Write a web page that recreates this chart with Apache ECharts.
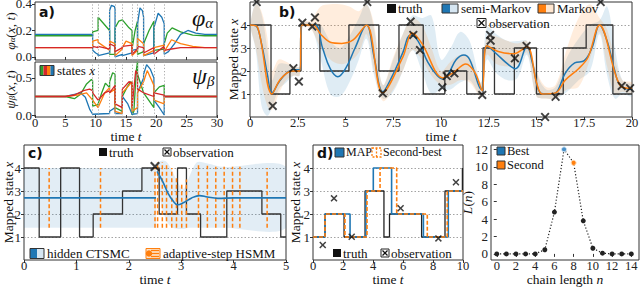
<!DOCTYPE html>
<html>
<head>
<meta charset="utf-8">
<script src="https://cdn.jsdelivr.net/npm/echarts@6.0.0/dist/echarts.min.js"></script>
<style>
html,body{margin:0;padding:0;background:#fff;}
#chart{width:640px;height:301px;}
</style>
</head>
<body>
<div id="chart"></div>
<script>
// ================= DATA =================
// ---- panel a ----
const aObsTimes = [9.5, 10.4, 12.3, 13.2, 14.4, 16.0, 16.9, 17.9, 19.6, 21.3];
const phiGreen = [[0,0.16],[9.5,0.16],[9.5,0.19],[10.4,0.2],[10.4,0.3],[12.3,0.2],[12.3,0.02],[13.2,0.02],[13.2,0.22],[13.8,0.27],[14.4,0.28],[15.5,0.22],[16.0,0.2],[16.0,0.06],[16.5,0.2],[16.9,0.27],[16.9,0.02],[17.9,0.04],[17.9,0.1],[18.8,0.2],[19.6,0.27],[19.6,0.05],[21.3,0.06],[21.3,0.1],[21.8,0.18],[22.6,0.22],[24.0,0.19],[26,0.165],[28,0.16],[30,0.16]];
const phiRed = [[0,0.07],[9.5,0.07],[9.5,0.08],[10.4,0.07],[10.4,0.08],[12.3,0.06],[12.3,0.1],[13.2,0.08],[13.2,0.04],[14.4,0.07],[14.4,0.08],[16.0,0.09],[16.0,0.02],[16.9,0.06],[16.9,0.08],[17.9,0.07],[17.9,0.03],[19.6,0.07],[19.6,0.02],[21.3,0.08],[21.3,0.05],[22.5,0.06],[24,0.07],[30,0.07]];
const phiOrange = [[0,0.07],[9.5,0.07],[9.5,0.12],[10.4,0.13],[10.4,0.11],[12.3,0.05],[12.3,0.12],[13.2,0.1],[13.2,0.01],[14.4,0.06],[14.4,0.07],[15.0,0.12],[16.0,0.1],[16.0,0.01],[16.9,0.05],[16.9,0.14],[17.9,0.1],[17.9,0.01],[19.6,0.05],[19.6,0.07],[21.3,0.09],[21.3,0.04],[22.5,0.13],[24,0.1],[26,0.08],[28,0.07],[30,0.07]];
const phiBlue = [[0,0.17],[9.5,0.17],[9.5,0.05],[10.0,0.03],[10.4,0.02],[10.4,0.01],[12.3,0.03],[12.3,0.35],[12.6,0.39],[13.1,0.38],[13.2,0.36],[13.2,0.0],[14.4,0.02],[14.4,0.01],[16.0,0.03],[16.0,0.05],[16.9,0.06],[16.9,0.25],[17.3,0.37],[17.7,0.35],[17.9,0.3],[17.9,0.01],[19.6,0.03],[19.6,0.22],[20.3,0.33],[20.9,0.3],[21.3,0.25],[21.3,0.02],[22.0,0.04],[23.0,0.1],[24.0,0.17],[25.2,0.2],[26.5,0.18],[28,0.17],[30,0.17]];
const psiGreen = [[0,0.25],[5,0.25],[6.5,0.22],[7.5,0.28],[8.5,0.42],[9.3,0.48],[9.5,0.46],[9.5,0.12],[10.4,0.14],[10.4,0.15],[11.0,0.3],[11.6,0.43],[12.3,0.37],[12.3,0.45],[12.8,0.57],[13.2,0.55],[13.2,0.1],[14.4,0.05],[14.4,0.25],[15.2,0.38],[15.8,0.45],[16.0,0.42],[16.0,0.0],[16.3,0.05],[16.7,0.6],[16.9,0.72],[16.9,0.55],[17.9,0.3],[19.6,0.1],[19.6,0.3],[20.5,0.38],[21.3,0.4],[21.3,0.25],[30,0.25]];
const psiRed = [[0,0.25],[5,0.25],[6.5,0.27],[8,0.33],[9.0,0.35],[9.5,0.33],[9.5,0.3],[10.4,0.2],[11.5,0.3],[12.3,0.33],[12.3,0.3],[13.2,0.4],[13.2,0.15],[14.4,0.1],[14.4,0.35],[15.5,0.45],[16.0,0.43],[16.0,0.1],[16.6,0.6],[16.9,0.55],[16.9,0.35],[17.9,0.3],[19.6,0.25],[19.6,0.3],[21.3,0.27],[21.3,0.25],[30,0.25]];
const psiOrange = [[0,0.25],[5,0.25],[7,0.27],[8.5,0.3],[9.5,0.2],[10.4,0.1],[11.5,0.3],[12.3,0.37],[12.3,0.3],[13.2,0.35],[13.2,0.05],[14.4,0.02],[14.4,0.3],[15.5,0.4],[16.0,0.45],[16.0,0.05],[16.9,0.1],[16.9,0.3],[17.9,0.45],[18.5,0.6],[19.6,0.4],[19.6,0.2],[21.3,0.15],[21.3,0.25],[30,0.25]];
const psiBlue = [[0,0.25],[5,0.25],[6.5,0.28],[7.5,0.3],[8.3,0.24],[9.0,0.08],[9.5,0.01],[12.3,0.02],[12.3,0.05],[13.2,0.1],[13.2,0.02],[14.4,0.02],[14.4,0.25],[15.3,0.15],[16.0,0.01],[16.9,0.02],[16.9,0.3],[17.9,0.5],[17.9,0.55],[18.4,0.68],[19.0,0.62],[19.6,0.5],[19.6,0.2],[20.5,0.1],[21.3,0.0],[21.3,0.25],[30,0.25]];

// ---- panel b ----
const bTruthT = [0,1.1,2.09,2.67,3.66,5.18,6.75,7.8,9.07,10.2,11.35,12.2,12.8,13.84,15.0,16.4,17.6,19.0,20];
const bTruthV = [4,1,2,4,2,4,2,4,1,2,1,3,1,3,1,3,4,1,1];
const bSemiMean = [[0,4],[0.3,3.97],[0.6,3.2],[0.9,1.9],[1.15,1.05],[1.5,1.5],[1.9,1.9],[2.3,2.05],[2.6,2.05],[2.7,4.0],[3.4,4.0],[3.8,3.0],[4.2,2.1],[4.6,1.75],[5.0,2.1],[5.5,3.0],[6.1,4.0],[6.5,2.6],[6.95,1.1],[7.4,1.7],[8.0,2.8],[8.4,3.55],[8.8,3.3],[9.3,2.4],[9.8,1.8],[10.1,1.65],[10.4,1.9],[10.8,2.5],[11.2,2.7],[11.5,2.5],[12.1,1.2],[12.4,3.1],[12.9,2.75],[13.5,2.3],[13.9,2.1],[14.5,3.05],[14.8,2.3],[15.2,1.05],[15.6,1.0],[16.0,1.05],[16.5,1.9],[17.0,2.35],[17.5,2.45],[17.9,3.0],[18.3,4.0],[18.7,3.3],[19.1,2.0],[19.4,1.35],[20,1.2]];
const bMarkMean = [[0,4],[0.4,3.9],[1.15,1.0],[1.6,1.65],[2.2,2.0],[2.6,2.0],[2.7,4.0],[3.3,4.0],[3.7,3.6],[4.2,3.25],[4.8,3.2],[5.4,3.35],[6.1,4.0],[6.95,1.05],[8.0,2.6],[8.5,3.65],[9.0,3.2],[10.1,1.7],[10.6,1.9],[11.3,2.3],[11.8,1.9],[12.15,1.15],[12.4,3.1],[13.0,2.85],[13.8,2.75],[14.5,3.05],[15.0,1.5],[15.3,1.0],[16.0,1.05],[16.5,1.6],[17.2,2.1],[17.7,2.6],[18.3,4.0],[19.4,1.35],[20,1.25]];
const bBandT   = [0,0.3,0.6,0.9,1.15,1.5,1.9,2.3,2.6,2.75,3.2,3.7,4.2,4.7,5.2,5.7,6.1,6.5,6.95,7.5,8.0,8.5,9.0,9.5,10.0,10.5,11.0,11.5,12.1,12.4,12.9,13.5,14.0,14.5,15.0,15.5,16.0,16.6,17.2,17.8,18.3,18.7,19.1,19.5,20];
const bMarkHi  = [4.05,4.9,4.6,3.5,2.0,2.5,2.4,2.2,2.2,4.1,4.2,4.8,4.9,4.9,4.8,4.6,4.9,4.0,1.4,2.6,3.6,4.3,4.0,3.0,2.0,2.4,2.7,2.6,1.5,3.5,3.5,3.3,3.2,3.3,2.0,1.3,1.4,3.0,4.3,4.9,4.3,3.8,2.5,1.6,1.5];
const bMarkLo  = [3.95,3.0,1.5,0.5,0.3,1.0,1.6,1.8,1.8,3.9,3.8,3.0,2.5,2.3,2.4,2.8,3.6,2.0,0.7,1.2,2.0,2.9,2.5,1.8,1.4,1.4,1.6,1.5,0.9,2.7,2.3,2.2,2.3,2.8,0.9,0.8,0.8,1.2,1.3,2.5,3.7,2.2,1.0,1.1,1.0];
const bSemiHi  = [4.05,4.95,4.5,3.0,1.6,2.3,2.3,2.2,2.2,4.1,4.1,4.0,3.3,3.0,3.5,4.3,4.95,3.8,1.4,2.5,3.6,4.4,4.3,4.4,2.5,3.0,3.7,3.3,1.5,3.9,3.6,3.3,3.3,3.3,1.9,1.2,1.3,2.6,3.4,4.0,4.2,4.8,3.0,1.6,1.4];
const bSemiLo  = [3.95,2.9,0.5,0.05,0.4,1.2,1.5,1.8,1.8,3.9,3.9,2.5,1.0,0.9,1.5,2.5,3.4,1.8,0.8,1.1,2.0,2.9,2.0,1.0,1.2,1.2,1.5,1.6,0.9,2.5,1.9,1.6,1.7,2.7,0.9,0.8,0.8,1.1,1.6,2.0,3.6,1.8,0.8,1.0,0.9];
const bObs = [[0.35,5.0],[1.19,0.48],[2.27,2.12],[2.56,1.54],[2.74,4.1],[3.26,3.93],[3.4,4.33],[6.14,5.0],[6.95,1.03],[8.41,4.15],[8.55,3.57],[8.9,2.91],[10.07,1.29],[10.3,1.78],[10.7,1.9],[12.16,0.96],[12.57,3.57],[12.6,3.32],[13.87,2.55],[14.48,3.09],[15.45,0.0],[16.0,0.88],[18.36,5.0],[19.46,1.35],[19.9,1.25]];

// ---- panel c ----
const cTruthT = [0,0.29,0.7,1.06,1.32,1.88,2.25,2.58,2.93,3.1,3.37,3.87,4.54,4.9,5];
const cTruthV = [4,1,4,1,2,3,4,2,4,2,1,3,2,1,1];
const cMean1 = [[0,2.7],[2.52,2.7]];
const cMean2 = [[2.54,3.85],[2.65,3.4],[2.75,2.9],[2.85,2.55],[2.93,2.4],[3.05,2.5],[3.2,2.7],[3.35,2.8],[3.5,2.74],[3.7,2.68],[4.0,2.7],[5,2.7]];
const cBand1T = [0,2.52], cBand1Lo = [1.4,1.4], cBand1Hi = [4.0,4.0];
const cBand2T  = [2.54,2.6,2.7,2.8,2.95,3.05,3.15,3.3,3.5,3.8,5.0];
const cBand2Hi = [4.1,4.3,4.3,4.0,3.3,3.1,3.6,4.25,4.2,4.05,4.05];
const cBand2Lo = [3.6,2.6,1.8,1.45,1.35,1.35,1.4,1.4,1.4,1.4,1.4];
const cDashT  = [0.48,1.46,2.5,2.55,2.64,2.72,2.82,2.91,3.01,3.1,3.33,3.5,3.66,3.82,3.98,4.12,4.64];
const cDashLo = [1.4,1.4,1.4,1.4,1.4,1.4,1.4,1.4,1.4,1.4,1.4,1.4,1.4,1.4,1.4,1.4,1.4];
const cDashHi = [4,4,4,4.25,4.25,4.2,4.0,3.6,3.3,3.5,4.2,4.1,4.05,4.05,4.05,4.05,4.0];
const cObs = [[2.5,4.06]];

// ---- panel d ----
const dTruthT = [0,0.8,2.07,3.47,4.73,5.1,7.24,8.8,9.96,10];
const dTruthV = [1,2,1,3,1,2,1,3,4,4];
const dMapT = [0,0.8,2.47,3.53,4.02,5.24,7.36,9.02,10];
const dMapV = [1,2,1,3,4,2,1,3,3];
const dSecT = [0,0.8,2.13,3.6,4.47,5.58,7.62,8.95,10];
const dSecV = [1,2,1,3,4,2,1,3,3];
const dObs = [[0.65,0.65],[1.4,2.68],[2.58,1.01],[5.84,2.25],[8.36,0.94],[9.53,3.38]];

// ---- panel e ----
const eN = [0,1,2,3,4,5,6,7,8,9,10,11,12,13,14];
const eL = [0,0,0,0,0,0.48,4.8,12,10.45,3.8,0.65,0.08,0,0,0];
const eBest = 7, eSecond = 8;

// ================= STYLE =================
const C = {blue:'#1f77b4', orange:'#ff7f0e', green:'#2ca02c', red:'#d62728', k:'#222'};
const SERIF = 'Liberation Serif';
const XPATH = 'path://M1.5,0L5,3.5L8.5,0L10,1.5L6.5,5L10,8.5L8.5,10L5,6.5L1.5,10L0,8.5L3.5,5L0,1.5Z';
const zip = (T,V) => T.map((t,i)=>[t,V[i]]);
const richAx = {
  r:{fontFamily:SERIF,fontSize:13.5,color:'#111',lineHeight:12},
  i:{fontFamily:SERIF,fontSize:13.5,fontStyle:'italic',color:'#111',lineHeight:12},
  s:{fontFamily:SERIF,fontSize:9,fontStyle:'italic',color:'#111',verticalAlign:'bottom',lineHeight:12}
};
const gridBase = {show:true, borderColor:'#333', borderWidth:1, backgroundColor:'transparent', containLabel:false, outerBoundsMode:'none'};
const grids = [
  {left:35, top:2, width:182, height:58},
  {left:35, top:62, width:182, height:55},
  {left:250, top:2, width:382, height:115},
  {left:24, top:145, width:262, height:115},
  {left:313, top:145, width:150, height:115},
  {left:491, top:145, width:148, height:115}
].map(g=>Object.assign({}, gridBase, g));

function ax(o){
  const base = {
    type:'value',
    axisLine:{show:false},
    axisTick:{show:true, length:3, lineStyle:{color:'#333'}},
    splitLine:{show:false},
    axisLabel:{fontFamily:SERIF, fontSize:13, color:'#222', margin:3},
    nameMoveOverlap:false
  };
  const r = Object.assign({}, base, o);
  if (o.axisLabel) r.axisLabel = Object.assign({}, base.axisLabel, o.axisLabel);
  if (o.axisTick) r.axisTick = Object.assign({}, base.axisTick, o.axisTick);
  return r;
}
const timeName = {name:'{r|time }{i|t}', nameLocation:'middle', nameTextStyle:{rich:richAx}};
const xl = {margin:0, lineHeight:12, fontSize:12.5};
const gridLine = {show:true, lineStyle:{type:[1.5,2], color:'#999', width:0.9}};
const st = [1,2,3,4];

const xAxis = [
  ax({gridIndex:0, min:0, max:30, interval:5, axisLabel:{show:false}}),
  ax(Object.assign({gridIndex:1, min:0, max:30, interval:5, axisLabel:xl}, timeName, {nameGap:13})),
  ax(Object.assign({gridIndex:2, min:0, max:20, interval:2.5, axisLabel:xl}, timeName, {nameGap:13})),
  ax(Object.assign({gridIndex:3, min:0, max:5, interval:1, axisLabel:xl}, timeName, {nameGap:13})),
  ax(Object.assign({gridIndex:4, min:0, max:10, interval:2, axisLabel:xl}, timeName, {nameGap:13})),
  ax({gridIndex:5, min:-0.6, max:14.8, axisLabel:Object.assign({customValues:[0,2,4,6,8,10,12,14]}, xl), axisTick:{customValues:[0,2,4,6,8,10,12,14]},
      name:'{r|chain length }{i|n}', nameLocation:'middle', nameGap:13, nameTextStyle:{rich:richAx}})
];
const yAxis = [
  ax({gridIndex:0, min:-0.023, max:0.415, axisLabel:{customValues:[0,0.2,0.4], formatter:v=>v.toFixed(1)}, axisTick:{customValues:[0,0.2,0.4]},
      name:'{i|φ}{s|α}{r|(}{i|x}{r|, }{i|t}{r|)}', nameLocation:'middle', nameGap:19, nameRotate:90, nameTextStyle:{rich:richAx}}),
  ax({gridIndex:1, min:-0.027, max:0.716, axisLabel:{customValues:[0,0.5], formatter:v=>v.toFixed(1)}, axisTick:{customValues:[0,0.5]},
      name:'{i|ψ}{s|β}{r|(}{i|x}{r|, }{i|t}{r|)}', nameLocation:'middle', nameGap:19, nameRotate:90, nameTextStyle:{rich:richAx}}),
  ax({gridIndex:2, min:0, max:5, axisLabel:{customValues:st}, axisTick:{customValues:st}, splitLine:gridLine,
      name:'{r|Mapped state }{i|x}', nameLocation:'middle', nameGap:11, nameRotate:90, nameTextStyle:{rich:richAx}}),
  ax({gridIndex:3, min:0, max:5, axisLabel:{customValues:st}, axisTick:{customValues:st}, splitLine:gridLine,
      name:'{r|Mapped state }{i|x}', nameLocation:'middle', nameGap:10, nameRotate:90, nameTextStyle:{rich:richAx}}),
  ax({gridIndex:4, min:0, max:5, axisLabel:{customValues:st}, axisTick:{customValues:st}, splitLine:gridLine,
      name:'{r|Mapped state }{i|x}', nameLocation:'middle', nameGap:12, nameRotate:90, nameTextStyle:{rich:richAx}}),
  ax({gridIndex:5, min:-0.7, max:12.5, axisLabel:{customValues:[0,2,4,6,8,10,12]}, axisTick:{customValues:[0,2,4,6,8,10,12]},
      name:'{i|L}{r|(}{i|n}{r|)}', nameLocation:'middle', nameGap:18, nameRotate:90, nameTextStyle:{rich:richAx}})
];

function band(xi, ts, lo, hi, fill, smooth){
  return {type:'custom', xAxisIndex:xi, yAxisIndex:xi, z:1, silent:true, clip:true, data:[[ts[0], lo[0]]],
    renderItem:function(params, api){
      const pts = [];
      for (let i=0;i<ts.length;i++) pts.push(api.coord([ts[i], hi[i]]));
      for (let i=ts.length-1;i>=0;i--) pts.push(api.coord([ts[i], lo[i]]));
      return {type:'polygon', shape:{points:pts, smooth:smooth}, style:{fill:fill}};
    }};
}
function ln(xi, data, color, w, extra){
  return Object.assign({type:'line', xAxisIndex:xi, yAxisIndex:xi, data:data, symbol:'none', silent:true,
    lineStyle:{color:color, width:w}, animation:false}, extra||{});
}
const obsMark = {type:[1.2,2], color:'#aaa', width:1};
function mark(){ return {silent:true, symbol:['none','none'], label:{show:false}, lineStyle:obsMark, data:aObsTimes.map(t=>({xAxis:t}))}; }

const series = [];
// a top
series.push(ln(0, phiGreen, C.green, 1.3, {markLine:mark()}));
series.push(ln(0, phiBlue, C.blue, 1.3));
series.push(ln(0, phiOrange, C.orange, 1.3));
series.push(ln(0, phiRed, C.red, 1.3));
// a bottom
series.push(ln(1, psiGreen, C.green, 1.3, {markLine:mark()}));
series.push(ln(1, psiBlue, C.blue, 1.3));
series.push(ln(1, psiOrange, C.orange, 1.3));
series.push(ln(1, psiRed, C.red, 1.3));
// b
series.push(band(2, bBandT, bSemiLo, bSemiHi, 'rgba(31,119,180,0.14)', 0.35));
series.push(band(2, bBandT, bMarkLo, bMarkHi, 'rgba(255,127,14,0.14)', 0.35));
series.push(ln(2, zip(bTruthT,bTruthV), '#333', 1.3, {step:'end', z:3}));
series.push(ln(2, bSemiMean, C.blue, 1.5, {smooth:0.4, z:4}));
series.push(ln(2, bMarkMean, C.orange, 1.5, {smooth:0.35, z:5}));
series.push({type:'scatter', xAxisIndex:2, yAxisIndex:2, data:bObs, symbol:XPATH, symbolSize:9, itemStyle:{color:'#111'}, z:6, silent:true, clip:false});
// c
series.push(band(3, cBand1T, cBand1Lo, cBand1Hi, 'rgba(31,119,180,0.13)', 0));
series.push(band(3, cBand2T, cBand2Lo, cBand2Hi, 'rgba(31,119,180,0.13)', 0.3));
series.push(ln(3, zip(cTruthT,cTruthV), '#333', 1.3, {step:'end', z:2}));
series.push({type:'custom', xAxisIndex:3, yAxisIndex:3, z:3, silent:true,
  data:cDashT.map((t,i)=>[t, cDashLo[i], cDashHi[i]]), encode:{x:0, y:[1,2]},
  renderItem:function(params, api){
    const p1 = api.coord([api.value(0), api.value(1)]);
    const p2 = api.coord([api.value(0), api.value(2)]);
    return {type:'line', shape:{x1:p1[0], y1:p1[1], x2:p2[0], y2:p2[1]}, style:{stroke:C.orange, lineWidth:1.5, lineDash:[4,2.5]}};
  }});
series.push(ln(3, cMean1, C.blue, 1.6, {z:4}));
series.push(ln(3, cMean2, C.blue, 1.6, {z:4, smooth:0.4}));
series.push({type:'scatter', xAxisIndex:3, yAxisIndex:3, data:cObs, symbol:XPATH, symbolSize:10, itemStyle:{color:'#111'}, z:6, silent:true});
// d
series.push(ln(4, zip(dTruthT,dTruthV), '#222', 1.3, {step:'end', z:3}));
series.push(ln(4, zip(dMapT,dMapV), C.blue, 1.6, {step:'end', z:4}));
series.push(ln(4, zip(dSecT,dSecV), C.orange, 1.6, {step:'end', z:5, lineStyle:{color:C.orange, width:1.6, type:[4,2]}}));
series.push({type:'scatter', xAxisIndex:4, yAxisIndex:4, data:dObs, symbol:XPATH, symbolSize:7, itemStyle:{color:'#111'}, z:6, silent:true});
// e
series.push({type:'line', xAxisIndex:5, yAxisIndex:5, silent:true,
  data:eN.map((n,i)=>{
    const o = {value:[n, eL[i]]};
    if (i===eBest) o.itemStyle = {color:'#4a90c8', borderColor:'#cfe3f3', borderWidth:1};
    if (i===eSecond) o.itemStyle = {color:C.orange, borderColor:'#ffd9b0', borderWidth:1};
    return o;
  }),
  symbol:'circle', symbolSize:5, showAllSymbol:true, itemStyle:{color:'#222'},
  lineStyle:{color:'#222', width:1.2, type:[1.2,2]}});

// ================= GRAPHIC (labels / legends) =================
const gtxt = (x,y,text,size,extra)=>({type:'text', x:x, y:y, silent:true, z:100,
  style:Object.assign({text:text, fontFamily:SERIF, fontSize:size||13, fill:'#111', align:'left', verticalAlign:'middle'}, extra||{})});
const grich = (x,y,text,rich)=>({type:'text', x:x, y:y, silent:true, z:100,
  style:{text:text, rich:rich, align:'left', verticalAlign:'middle'}});
const grect = (x,y,w,h,fill,stroke,extra)=>({type:'rect', silent:true, z:100, shape:{x:x,y:y,width:w,height:h},
  style:Object.assign({fill:fill, stroke:stroke||null, lineWidth:1}, extra||{})});
const gline = (x1,y1,x2,y2,stroke,w,dash)=>({type:'line', silent:true, z:101, shape:{x1:x1,y1:y1,x2:x2,y2:y2},
  style:{stroke:stroke, lineWidth:w||1, lineDash:dash||null}});
const bold = (x,y,t)=>gtxt(x,y,t,14,{fontFamily:'DejaVu Sans', fontWeight:'bold'});
const rl = {r:{fontFamily:SERIF,fontSize:13,fill:'#111'}, i:{fontFamily:SERIF,fontSize:13,fontStyle:'italic',fill:'#111'}};
function obsIcon(x,y,s){ return [grect(x,y,s,s,'#fff','#222'), gline(x+1.5,y+1.5,x+s-1.5,y+s-1.5,'#111',1.3), gline(x+s-1.5,y+1.5,x+1.5,y+s-1.5,'#111',1.3)]; }
function splitIcon(x,y,w,h,dark,light){ return [grect(x,y,w/2,h,dark,null), grect(x+w/2,y,w/2,h,light,null), grect(x,y,w,h,null,'#333')]; }

const graphic = [
  // panel a
  bold(39,12,'a)'),
  grich(192,18,'{p|φ}{s|α}', {p:{fontFamily:SERIF,fontSize:24,fontStyle:'italic',fill:'#111'}, s:{fontFamily:SERIF,fontSize:15,fontStyle:'italic',fill:'#111',verticalAlign:'bottom'}}),
  grich(192,76,'{p|ψ}{s|β}', {p:{fontFamily:SERIF,fontSize:24,fontStyle:'italic',fill:'#111'}, s:{fontFamily:SERIF,fontSize:15,fontStyle:'italic',fill:'#111',verticalAlign:'bottom'}}),
  grect(40,65.5,3.5,10,C.green), grect(43.5,65.5,3.5,10,C.red), grect(47,65.5,3.5,10,C.orange), grect(50.5,65.5,3.5,10,C.blue), grect(40,65.5,14,10,null,'#333'),
  grich(57,70.5,'{r|states }{i|x}', rl),
  // panel b
  bold(279,12,'b)'),
  grect(387,4,9,9,'#111'), gtxt(398,8.5,'truth'),
  ...splitIcon(442,4,16,9,C.blue,'#d6e6f2'), gtxt(461,8.5,'semi-Markov'),
  ...splitIcon(538,4,16,9,C.orange,'#ffe6cf'), gtxt(557,8.5,'Markov'),
  ...obsIcon(477,18.5,9), gtxt(489,23,'observation'),
  // panel c
  bold(28,153,'c)'),
  grect(99,148,8,8,'#111'), gtxt(109,152,'truth'),
  ...obsIcon(163,148,8), gtxt(173,152,'observation'),
  ...splitIcon(30,248.5,14,10,C.blue,'#d6e6f2'), gtxt(47,253,'hidden CTSMC'),
  grect(146,248.5,14,10,'#fde3c8',C.orange), gline(151,250.5,159,250.5,C.orange,1.3), gline(151,253.5,159,253.5,C.orange,1.3), gline(151,256.5,159,256.5,C.orange,1.3),
  {type:'circle', silent:true, z:102, shape:{cx:149,cy:253.5,r:3.2}, style:{fill:C.orange}},
  gtxt(163,253,'adaptive-step HSMM'),
  // panel d
  bold(317,153,'d)'),
  grect(335,148,9,9,C.blue,'#333'), gtxt(346,152,'MAP',12),
  grect(372,148,9,9,'#fff',C.orange,{lineDash:[2,1.5], lineWidth:1.3}), gline(376.5,148,376.5,157,C.orange,1.3,[2,1.5]), gtxt(383,152,'Second-best',12),
  grect(333,249,8,8,'#111'), gtxt(343,253,'truth'),
  ...obsIcon(381,249,8), gtxt(391,253,'observation'),
  // panel e
  grect(497,147,8,8,C.blue,'#333'), gtxt(507,151,'Best',12.5),
  grect(497,161,8,8,C.orange,'#333'), gtxt(507,165,'Second',12.5)
];

const chart = echarts.init(document.getElementById('chart'), null, {renderer:'svg', width:640, height:301});
chart.setOption({
  animation:false,
  backgroundColor:'#fff',
  grid:grids, xAxis:xAxis, yAxis:yAxis, series:series, graphic:graphic
});
</script>
</body>
</html>
